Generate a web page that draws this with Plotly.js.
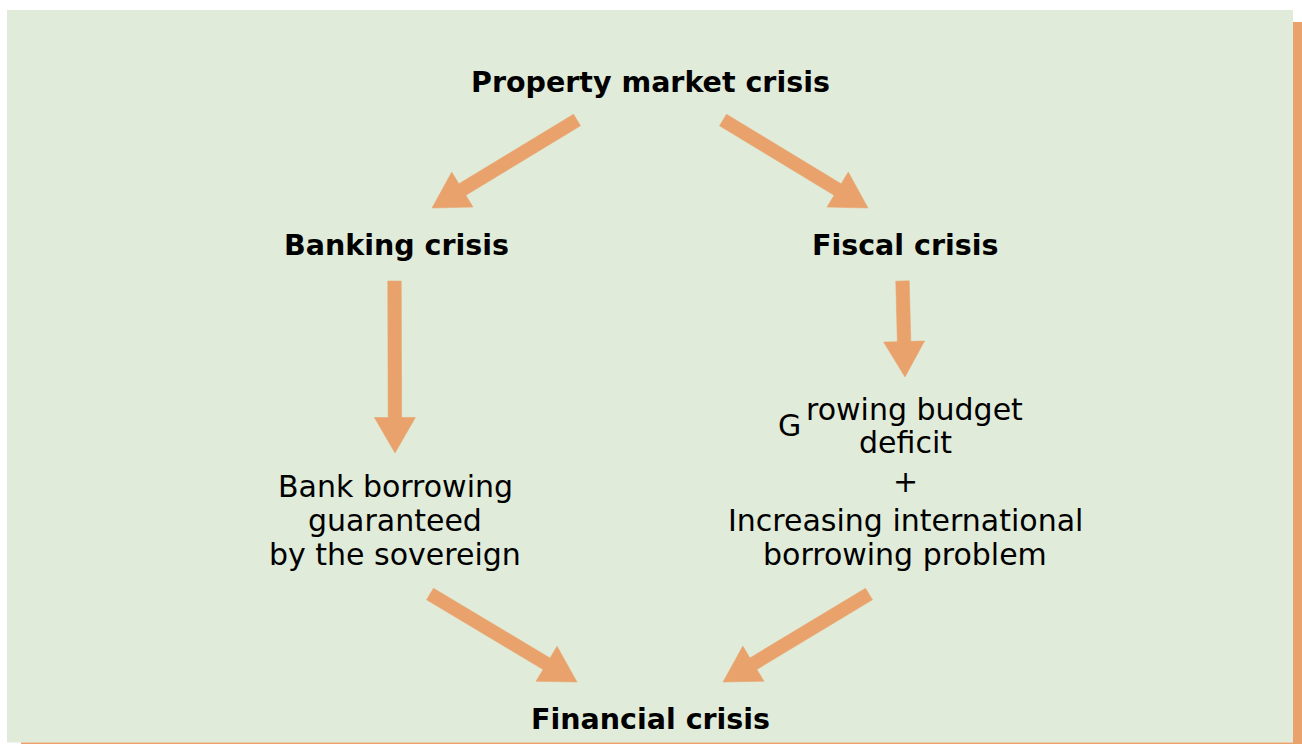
<!DOCTYPE html>
<html>
<head>
<meta charset="utf-8">
<script src="https://cdn.plot.ly/plotly-3.0.1.min.js"></script>
<style>
  html, body { margin: 0; padding: 0; background: #ffffff; }
  #chart { width: 1302px; height: 744px; }
</style>
</head>
<body>
<div id="chart"></div>
<script>
// ---- Diagram content ----
const headingLabels = ["Property market crisis", "Banking crisis", "Fiscal crisis", "Financial crisis"];
const leftDetailLines = ["Bank borrowing", "guaranteed", "by the sovereign"];
const rightDetailLines = ["G", "rowing budget", "deficit", "+", "Increasing international", "borrowing problem"];

// ---- Layout (pixel-space positions) ----
const headingX = [650, 396, 905, 650];
const headingY = [82, 245, 245, 719];
const leftDetailX = [395, 395, 395];
const leftDetailY = [486, 520, 554];
const rightDetailX = [803, 804, 905, 905, 905, 905];
const rightDetailY = [425, 409, 442, 481, 520, 554];
const rightDetailAnchor = ['right', 'left', 'center', 'center', 'center', 'center'];

// arrows: start point -> tip point
const arrowStartX = [577, 723, 394.5, 902.5, 430, 869];
const arrowStartY = [120, 120, 281, 281, 594, 594];
const arrowTipX   = [432, 868, 395, 905, 577, 723];
const arrowTipY   = [208, 208, 453, 377, 682, 682];

const W = 1302, H = 744;
const ORANGE = '#e9a26b';
const GREEN = '#e0ebd9';
const SHAFT_W = 13.5;
const HEAD_SIDE = 41;

function arrowPolygon(x0, y0, x1, y1) {
  const dx = x1 - x0, dy = y1 - y0;
  const L = Math.hypot(dx, dy);
  const ux = dx / L, uy = dy / L;
  const px = -uy, py = ux;
  const hh = HEAD_SIDE * Math.sqrt(3) / 2;
  const bx = x1 - ux * hh, by = y1 - uy * hh;
  const sw = SHAFT_W / 2, hw = HEAD_SIDE / 2;
  const pts = [
    [x0 + px * sw, y0 + py * sw],
    [bx + px * sw, by + py * sw],
    [bx + px * hw, by + py * hw],
    [x1, y1],
    [bx - px * hw, by - py * hw],
    [bx - px * sw, by - py * sw],
    [x0 - px * sw, y0 - py * sw],
    [x0 + px * sw, y0 + py * sw]
  ];
  return { x: pts.map(p => p[0]), y: pts.map(p => p[1]) };
}

const traces = arrowStartX.map((sx, i) => {
  const poly = arrowPolygon(sx, arrowStartY[i], arrowTipX[i], arrowTipY[i]);
  return {
    type: 'scatter', mode: 'lines', x: poly.x, y: poly.y,
    fill: 'toself', fillcolor: ORANGE,
    line: { color: ORANGE, width: 0.5 },
    hoverinfo: 'skip', showlegend: false
  };
});

const FONT = '"DejaVu Sans", Verdana, sans-serif';
const annotations = [];
headingLabels.forEach((t, i) => annotations.push({
  x: headingX[i], y: headingY[i], xref: 'x', yref: 'y', text: '<b>' + t + '</b>',
  showarrow: false, xanchor: 'center', yanchor: 'middle',
  font: { family: FONT, size: 28.5, color: '#000000' }
}));
leftDetailLines.forEach((t, i) => annotations.push({
  x: leftDetailX[i], y: leftDetailY[i], xref: 'x', yref: 'y', text: t,
  showarrow: false, xanchor: 'center', yanchor: 'middle',
  font: { family: FONT, size: 30, color: '#000000' }
}));
rightDetailLines.forEach((t, i) => annotations.push({
  x: rightDetailX[i], y: rightDetailY[i], xref: 'x', yref: 'y', text: t,
  showarrow: false, xanchor: rightDetailAnchor[i], yanchor: 'middle',
  font: { family: FONT, size: 30, color: '#000000' }
}));

const shapes = [
  { type: 'rect', xref: 'x', yref: 'y', x0: 7, x1: 1293, y0: 10, y1: 742.5, fillcolor: GREEN, line: { width: 0 }, layer: 'below' },
  { type: 'rect', xref: 'x', yref: 'y', x0: 1293, x1: 1302, y0: 22, y1: 744, fillcolor: ORANGE, line: { width: 0 }, layer: 'below' },
  { type: 'rect', xref: 'x', yref: 'y', x0: 21, x1: 1302, y0: 742.5, y1: 744, fillcolor: ORANGE, line: { width: 0 }, layer: 'below' }
];

const layout = {
  width: W, height: H,
  margin: { l: 0, r: 0, t: 0, b: 0, pad: 0 },
  paper_bgcolor: '#ffffff', plot_bgcolor: 'rgba(0,0,0,0)',
  xaxis: { range: [0, W], visible: false, fixedrange: true },
  yaxis: { range: [H, 0], visible: false, fixedrange: true },
  shapes: shapes,
  annotations: annotations,
  showlegend: false
};

Plotly.newPlot('chart', traces, layout, { staticPlot: true, displayModeBar: false });
</script>
</body>
</html>
